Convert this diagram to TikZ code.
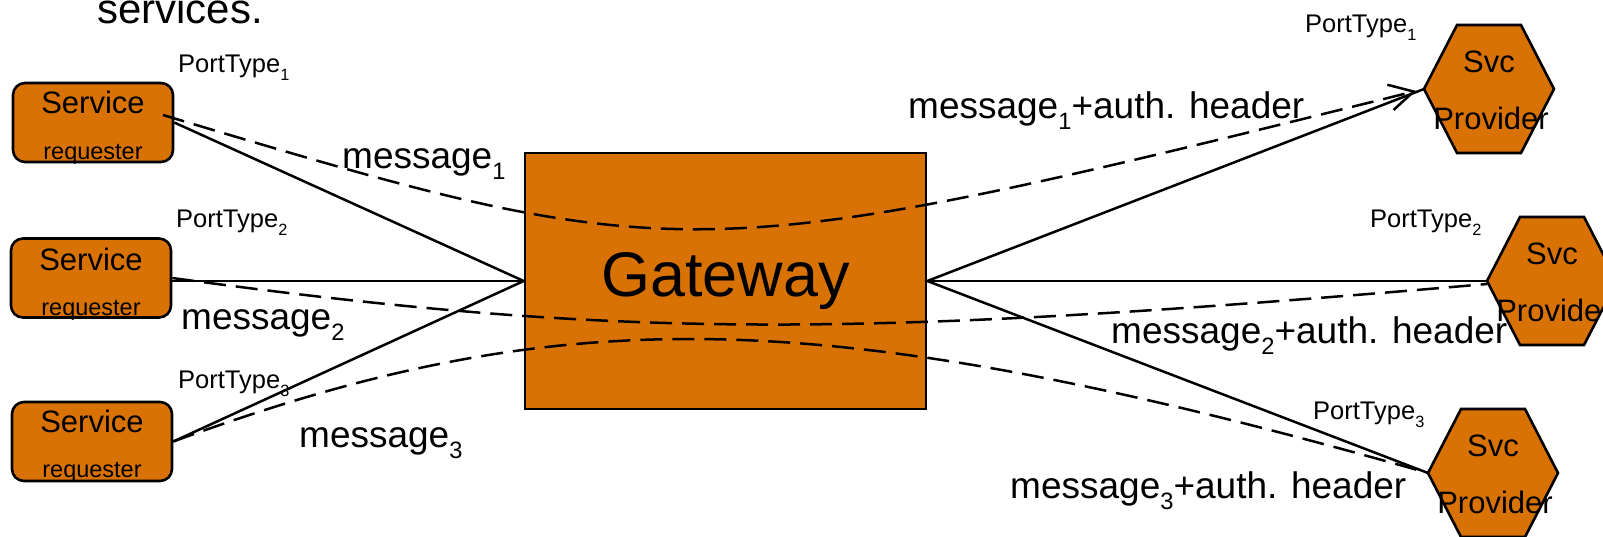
\documentclass[tikz,border=0pt]{standalone}
\usepackage{fontspec}
\setmainfont{Liberation Sans}
\usetikzlibrary{arrows.meta,calc}
\definecolor{boxorange}{RGB}{217,114,5}
% dropped, reduced index after a word
\newcommand\lsub[1]{\raisebox{-0.32em}{\scalebox{0.64}{#1}}}

\begin{document}
\begin{tikzpicture}[x=1pt,y=-1pt,
  box/.style={draw=black, fill=boxorange, line width=2.6pt},
  reqbox/.style={box, rounded corners=12pt, minimum width=160pt, minimum height=79pt, inner sep=0pt},
  lbl/.style={inner sep=0pt, anchor=base west},
  msg/.style={lbl, font=\fontsize{37}{40}\selectfont},
  port/.style={lbl, font=\fontsize{25.5}{28}\selectfont},
  big/.style={inner sep=0pt, anchor=base, font=\fontsize{31}{34}\selectfont},
  small/.style={inner sep=0pt, anchor=base, font=\fontsize{23.5}{26}\selectfont},
  link/.style={draw=black, line width=2.5pt},
  flow/.style={draw=black, line width=2.5pt, dash pattern=on 22pt off 10pt},
]
\useasboundingbox (0,0) rectangle (1603,536);

% heading fragment
\node[lbl, font=\fontsize{42}{46}\selectfont] (head) at (97,23) {services.};

% service requesters
\node[reqbox] (r1) at (93,122.5) {};
\node[reqbox] (r2) at (91,278) {};
\node[reqbox] (r3) at (92,441.5) {};

% gateway
\node[box, minimum width=401pt, minimum height=256pt, inner sep=0pt,
      font=\fontsize{63}{66}\selectfont] (gw) at (725.5,281) {Gateway};

% service providers (hexagons, named by their left corner)
\coordinate (p1) at (1424,89);
\coordinate (p2) at (1487,281);
\coordinate (p3) at (1428,473);
\foreach \p in {p1,p2,p3}{
  \draw[box] (\p) -- ++(33,-64) -- ++(64,0) -- ++(33,64) -- ++(-33,64) -- ++(-64,0) -- cycle;
}

% solid port connections
\draw[link] (r1.east) -- (gw.west);
\draw[link] (r2.east |- gw.west) -- (gw.west);
\draw[link] (r3.east) -- (gw.west);
\draw[link] (gw.east) -- (p1);
\draw[link] (gw.east) -- (p2);
\draw[link] (gw.east) -- (p3);

% message flows
\coordinate (m1) at (163,115);
\draw[flow, -{Straight Barb[length=24pt,width=26pt]}, shorten >=8pt]
  (m1) .. controls (683,271) and (691,271) .. (p1);
\draw[flow] (r2.east) .. controls (620,339) and (850,339) .. ([yshift=-3pt]p2);
\draw[flow] (r3.east) .. controls (560,300) and (820,300) .. (p3);

% texts in the boxes
\node[big]   (s1) at (93,113) {Service};
\node[small] (q1) at (93,159) {requester};
\node[big]   (s2) at (91,270) {Service};
\node[small] (q2) at (91,315) {requester};
\node[big]   (s3) at (92,432) {Service};
\node[small] (q3) at (92,477) {requester};

\node[big] (v1) at ($(p1)+(65,-17)$) {Svc};
\node[big] (w1) at ($(p1)+(67,40)$) {Provider};
\node[big] (v2) at ($(p2)+(65,-17)$) {Svc};
\node[big] (w2) at ($(p2)+(67,40)$) {Provider};
\node[big] (v3) at ($(p3)+(65,-17)$) {Svc};
\node[big] (w3) at ($(p3)+(67,40)$) {Provider};

% port type labels
\node[port] (pt1) at (178,72) {PortType\lsub{1}};
\node[port] (pt2) at (176,227) {PortType\lsub{2}};
\node[port] (pt3) at (178,388) {PortType\lsub{3}};
\node[port] (pt4) at (1305,32) {PortType\lsub{1}};
\node[port] (pt5) at (1370,227) {PortType\lsub{2}};
\node[port] (pt6) at (1313,419) {PortType\lsub{3}};

% message labels
\node[msg] (ml1) at (342,168) {message\lsub{1}};
\node[msg] (ml2) at (181,329) {message\lsub{2}};
\node[msg] (ml3) at (299,447) {message\lsub{3}};
\node[msg] (ma1) at (908,118) {message\lsub{1}+auth. header};
\node[msg] (ma2) at (1111,343) {message\lsub{2}+auth. header};
\node[msg] (ma3) at (1010,498) {message\lsub{3}+auth. header};
\end{tikzpicture}
\end{document}
